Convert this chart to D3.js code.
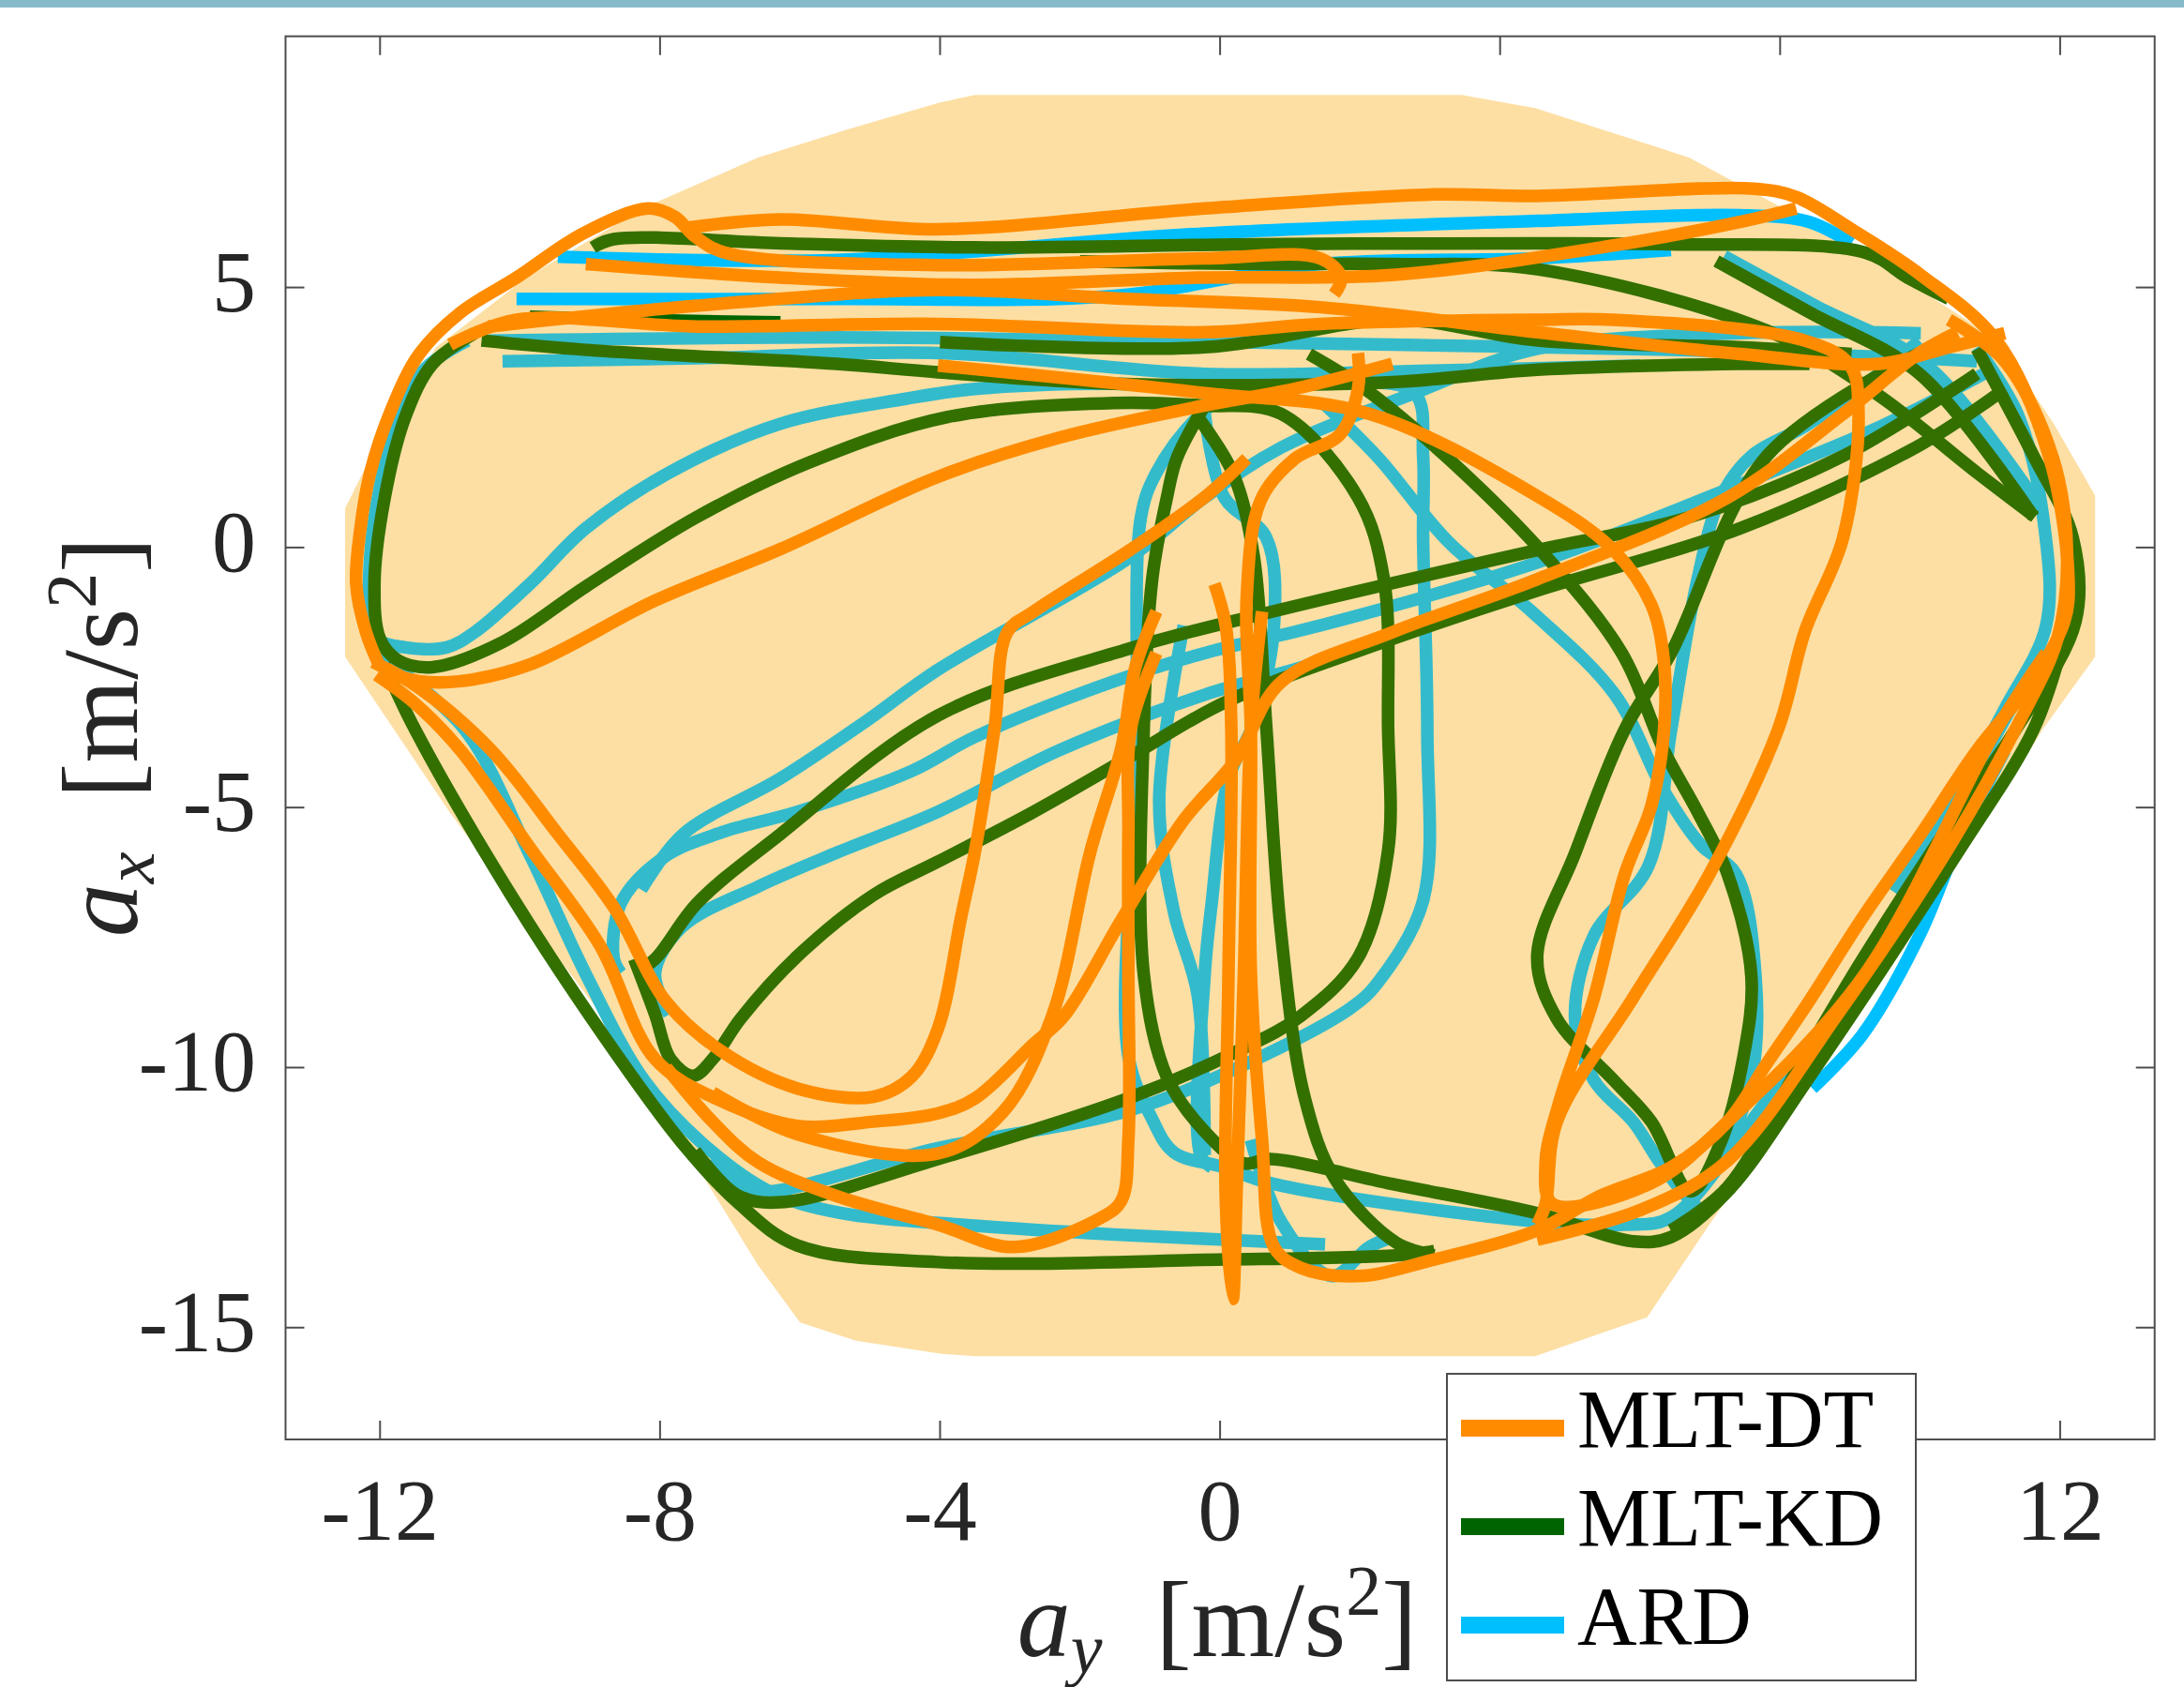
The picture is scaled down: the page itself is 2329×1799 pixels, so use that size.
<!DOCTYPE html>
<html>
<head>
<meta charset="utf-8">
<script src="https://cdn.jsdelivr.net/npm/d3@7"></script>
<style>
  body { margin: 0; background: #fff; }
  text { font-family: "Liberation Serif", "DejaVu Serif", serif; }
</style>
</head>
<body>
<div id="chart"></div>
<script>
const width = 2329;
const height = 1799;
const plot = { left: 304.5, right: 2297.7, top: 38.7, bottom: 1535 };

const xTicks = [-12, -8, -4, 0, 4, 8, 12];
const yTicks = [5, 0, -5, -10, -15];
const seriesNames = ["MLT-DT", "MLT-KD", "ARD"];

// friction envelope, [a_y, a_x]
const envelope = [[-3.5,8.7],[-4.0,8.56],[-5.3,8.05],[-6.6,7.5],[-8.2,6.55],[-9.9,5.2],[-11.2,3.85],[-12.0,2.1],[-12.5,0.75],[-12.5,-2.1],[-11.8,-3.5],[-11.0,-5.1],[-9.9,-7.1],[-8.8,-9.05],[-7.7,-11.4],[-6.6,-13.8],[-6.0,-14.9],[-5.2,-15.25],[-4.0,-15.5],[-3.5,-15.55],[4.5,-15.55],[5.25,-15.2],[6.1,-14.8],[7.0,-13.0],[8.35,-10.4],[10.0,-7.1],[11.1,-4.9],[11.75,-3.5],[12.5,-2.1],[12.5,1.0],[11.9,2.4],[11.1,4.0],[10.0,4.95],[8.35,6.3],[6.7,7.5],[4.5,8.45],[3.45,8.7]];

// MLT-DT trajectory pieces, [a_y, a_x]
const dtLaps = [
  [[-12.0,-2.3],[-12.2,-1.63],[-12.34,-0.7],[-12.28,0.37],[-12.14,1.44],[-11.84,2.65],[-11.44,3.72],[-10.85,4.52],[-10.05,5.19],[-9.1,6.04],[-8.17,6.52],[-7.79,6.36],[-7.51,5.99],[-7.07,5.67],[-4.03,5.43],[-0.22,5.56],[1.43,5.56],[1.73,5.19],[1.63,4.87]],
  [[-7.6,6.15],[-6.28,6.31],[-4.03,6.12],[-0.22,6.52],[3.06,6.79],[4.53,6.76],[7.63,6.9],[8.23,6.74],[9.02,6.12],[10.01,5.24],[11.09,3.98],[11.84,1.76],[12.12,-0.61],[12.06,-1.42],[11.6,-2.57],[10.81,-3.9],[10.01,-5.51],[9.18,-7.11],[8.42,-8.71],[7.81,-9.92],[7.25,-11.04],[6.44,-11.92],[5.44,-12.46],[4.53,-13.13],[3.06,-13.69],[1.97,-14.01],[1.15,-13.85],[0.77,-13.45],[0.6,-11.39],[0.44,-8.18],[0.44,-3.53],[0.38,-0.96],[0.58,0.91],[1.07,1.71],[1.71,2.17],[1.97,3.05],[1.97,3.74]],
  [[-12.0,-2.35],[-11.44,-2.57],[-10.85,-2.57],[-9.86,-2.25],[-8.07,-1.02],[-6.28,-0.03],[-4.03,1.36],[-2.3,2.11],[-0.22,2.73],[1.07,3.05],[2.46,3.53]],
  [[-12.1,-2.2],[-11.44,-2.7],[-10.41,-3.9],[-9.46,-5.51],[-8.66,-6.92],[-7.91,-8.74],[-7.13,-9.68],[-6.04,-10.4],[-4.95,-10.56],[-4.41,-10.18],[-4.03,-9.25],[-3.7,-7.11],[-3.5,-5.83],[-3.22,-3.45],[-3.04,-1.63],[-2.66,-1.23],[-1.29,-0.05],[-0.2,0.99],[0.38,1.71]],
  [[-12.05,-2.45],[-11.5,-3.0],[-10.85,-3.9],[-9.86,-5.77],[-8.86,-7.65],[-8.07,-9.84],[-7.13,-10.64],[-6.04,-11.12],[-4.95,-11.04],[-4.03,-10.88],[-3.5,-10.59],[-2.66,-9.54],[-2.23,-9.01],[-1.41,-7.16],[-0.52,-5.24],[0.22,-4.09],[0.87,-2.59],[2.46,-1.63],[4.53,-0.61],[7.25,0.96],[8.9,2.57],[9.99,3.74],[10.53,4.14]],
  [[-7.25,-10.48],[-6.04,-11.28],[-4.03,-11.65],[-3.1,-10.85],[-2.4,-9.01],[-1.85,-5.83],[-1.41,-3.85],[-1.21,-2.3],[-0.91,-1.23]],
  [[-7.91,-10.0],[-7.25,-11.04],[-6.6,-11.82],[-5.5,-12.46],[-4.03,-13.02],[-2.94,-13.45],[-1.69,-12.88],[-1.41,-12.56],[-1.31,-11.39],[-1.31,-8.18],[-1.31,-5.51],[-1.27,-3.45],[-0.91,-2.03]],
  [[0.6,-1.23],[0.44,-3.45],[0.34,-8.18],[0.24,-12.19],[0.18,-14.45],[0.08,-12.46],[0.12,-8.18],[0.16,-3.45],[0.08,-1.5],[-0.08,-0.7]],
  [[-4.03,3.5],[-0.22,2.97],[2.13,2.57],[4.53,0.99],[5.62,-0.05],[6.16,-1.1],[6.34,-2.19],[6.34,-3.53],[6.16,-4.97],[5.78,-6.28],[5.34,-8.66],[4.85,-10.64],[4.65,-11.82],[4.75,-12.62],[6.16,-12.22],[7.25,-11.04],[9.18,-8.26],[11.09,-3.5],[11.8,-2.03]],
  [[4.53,-13.02],[4.65,-12.62],[4.81,-11.04],[5.9,-8.66],[6.99,-6.28],[7.97,-3.5],[8.35,-1.63],[8.9,0.19],[9.12,2.57],[9.0,3.5],[8.35,3.98],[5.62,4.38],[4.53,4.38],[1.43,4.3],[-0.22,4.14],[-4.03,4.3],[-7.47,4.25],[-10.05,4.38],[-11.0,3.9]],
  [[-10.45,4.25],[-7.47,4.65],[-4.03,4.95],[-1.31,4.78],[1.43,4.62],[4.53,4.14],[7.43,3.72],[9.42,3.53],[10.41,3.85],[11.21,4.12]],
  [[-9.06,5.45],[-6.28,5.19],[-3.5,5.05],[-0.32,5.19],[2.46,5.24],[5.44,5.77],[7.43,6.26],[8.23,6.52]],
  [[4.53,-13.31],[6.04,-12.72],[7.25,-11.79],[8.82,-8.98],[10.41,-5.77],[11.41,-3.37],[11.96,-1.76],[12.1,-0.16],[11.9,1.71],[11.21,3.58],[10.41,4.38]]
];

// MLT-KD trajectory pieces
const kdLaps = [
  [[-8.96,5.77],[-8.66,5.93],[-6.28,5.85],[-3.5,5.77],[0.48,5.83],[4.53,5.85],[6.44,5.83],[9.22,5.67],[9.82,5.19],[10.41,4.78]],
  [[-10.65,4.12],[-11.25,3.53],[-11.64,2.51],[-11.94,0.91],[-12.08,-0.7],[-12.0,-1.76],[-11.74,-2.17],[-11.25,-2.3],[-10.25,-1.82],[-9.06,-0.75],[-7.47,0.59],[-5.88,1.63],[-3.89,2.51],[-1.51,2.78],[-0.22,2.73],[0.87,2.57],[1.97,0.96],[2.34,-0.61],[2.4,-3.45],[2.4,-5.83],[1.97,-7.89],[1.15,-9.01],[0.22,-9.7],[-1.31,-10.59],[-4.03,-11.76],[-6.28,-12.59],[-6.9,-12.45],[-7.5,-11.6]],
  [[-10.55,3.98],[-9.06,3.8],[-5.48,3.53],[-4.03,3.37],[-1.51,3.15],[2.46,3.18],[4.53,3.42],[7.43,3.53],[8.42,3.53]],
  [[-11.94,-2.25],[-11.5,-3.5],[-10.13,-6.68],[-8.78,-9.44],[-7.69,-11.44],[-6.87,-12.62],[-6.04,-13.42],[-4.03,-13.74],[0.06,-13.69],[2.52,-13.61],[3.06,-13.53]],
  [[-0.32,2.51],[0.18,1.44],[0.48,-0.16],[0.66,-3.45],[0.87,-7.4],[1.21,-10.59],[1.65,-12.16],[2.52,-13.37],[3.06,-13.61]],
  [[-0.22,2.73],[-0.62,1.71],[-0.76,0.96],[-0.97,-0.61],[-1.09,-3.45],[-1.09,-8.21],[-0.76,-10.18],[-0.22,-11.23],[0.34,-11.84],[0.72,-11.76],[2.46,-12.24],[4.53,-12.8],[5.9,-13.34],[6.44,-13.26],[7.25,-12.38],[8.42,-10.18],[10.53,-5.88],[11.62,-3.5],[12.0,-2.03]],
  [[10.81,3.34],[8.9,1.76],[6.72,0.59],[4.53,-0.05],[0.66,-1.26],[-1.31,-1.95],[-4.03,-3.23],[-6.28,-5.51],[-7.47,-6.84],[-8.07,-7.91],[-8.37,-8.18]],
  [[-8.37,-7.91],[-8.07,-8.98],[-7.85,-9.84],[-7.53,-10.16],[-7.25,-9.84],[-6.85,-9.06],[-6.04,-7.86],[-4.95,-6.68],[-4.03,-6.04],[-2.7,-5.11],[-1.31,-4.04],[0.08,-2.97],[2.46,-1.76],[4.53,-0.83],[7.43,0.37],[10.01,1.98],[11.21,3.05]],
  [[9.99,3.74],[7.81,1.76],[6.44,-2.03],[5.78,-3.5],[5.07,-5.88],[4.53,-7.86],[4.81,-9.06],[5.62,-10.24],[6.16,-11.04],[6.72,-12.38],[7.15,-11.44],[7.47,-9.84],[7.59,-8.26],[7.25,-6.28],[6.82,-5.08],[6.34,-3.9],[5.74,-2.03],[4.65,-0.16],[3.26,1.71],[2.07,3.05],[1.27,3.72]],
  [[10.81,3.82],[11.62,1.76],[12.18,0.19],[12.22,-1.42],[11.35,-3.53],[10.53,-5.11],[9.18,-7.91],[8.35,-9.78],[7.25,-12.3],[6.44,-13.13]],
  [[-2.0,5.5],[0.5,5.45],[2.46,5.45],[4.53,5.35],[7.81,4.17],[9.36,2.97],[10.81,1.44],[11.64,0.59]],
  [[-4.0,3.95],[-0.22,3.85],[2.52,4.38],[4.53,3.98],[7.43,3.85],[9.02,3.72]],
  [[7.09,5.51],[8.42,4.52],[9.99,3.34],[11.62,0.59]]
];
const kdDarkLaps = [
  [[-9.86,4.44],[-8.46,4.38],[-6.28,4.33]]
];

// ARD trajectory pieces
const ardLaps = [
  [[-10.75,3.98],[-11.35,3.45],[-11.74,2.51],[-12.0,1.18],[-12.14,-0.16],[-12.14,-1.23],[-12.04,-1.76],[-11.64,-1.92],[-11.05,-1.92],[-10.65,-1.63],[-9.86,-0.7],[-9.06,0.37],[-7.87,1.44],[-6.28,2.38],[-4.49,2.86],[-3.5,3.05],[-1.51,3.15],[0.08,3.05],[1.67,3.18],[2.78,2.97],[2.9,1.76],[2.9,0.19],[2.96,-3.53],[2.9,-6.79],[2.25,-8.37],[1.87,-8.85],[0.22,-10.02],[-1.31,-10.83],[-4.03,-11.55],[-6.44,-12.38],[-6.87,-12.3],[-7.3,-11.8]],
  [[-12.04,-2.03],[-10.79,-3.5],[-9.87,-5.88],[-9.04,-8.26],[-8.23,-10.24],[-7.41,-11.44],[-6.44,-12.38],[-5.48,-12.78],[-3.5,-13.04],[-1.51,-13.21],[0.06,-13.31],[1.5,-13.4]],
  [[10.91,3.34],[9.44,2.33],[7.25,1.12],[4.53,-0.29],[1.43,-1.5],[-0.22,-2.03],[-1.51,-2.57],[-3.5,-3.64],[-4.41,-4.3],[-6.04,-5.08],[-7.13,-5.48],[-7.95,-5.96],[-8.56,-6.84],[-8.66,-7.91],[-8.56,-8.18]],
  [[4.53,-0.61],[1.43,-2.19],[-0.22,-2.83],[-2.3,-3.9],[-4.03,-5.08],[-5.5,-5.88],[-6.6,-6.52],[-7.69,-7.3],[-8.07,-8.18],[-7.87,-8.98]],
  [[-8.27,-6.58],[-7.67,-5.51],[-6.28,-4.44],[-5.09,-3.37],[-4.03,-2.35],[-1.31,-0.21],[-0.22,0.96],[0.87,1.92],[2.78,2.97],[4.53,3.82],[7.43,4.12],[10.01,4.12]],
  [[0.48,3.31],[-0.32,2.51],[-0.91,1.44],[-1.13,0.59],[-1.19,-3.53],[-1.25,-5.51],[-1.31,-9.78],[-0.97,-10.99],[-0.66,-11.63],[0.06,-11.92],[0.77,-12.24],[4.53,-12.96],[5.78,-13.02],[6.44,-12.88],[7.81,-10.64],[9.99,-6.68],[10.81,-4.3],[11.41,-2.83]],
  [[-0.52,-1.5],[-0.87,-4.87],[-0.66,-7.0],[-0.32,-8.61],[-0.22,-11.68]],
  [[-0.22,2.57],[0.06,0.96],[0.66,0.19],[0.77,-1.5],[0.48,-3.37],[0.12,-4.44],[-0.12,-6.84],[-0.22,-8.21],[-0.28,-11.68],[-0.12,-11.92]],
  [[0.44,-11.39],[0.87,-12.96],[1.59,-14.01],[2.13,-13.45],[2.46,-13.26]],
  [[9.99,3.98],[9.18,3.1],[8.35,2.33],[7.59,1.76],[7.15,0.96],[6.82,-0.61],[6.44,-3.53],[6.12,-6.12],[5.34,-7.46],[5.07,-9.06],[5.34,-10.24],[5.9,-11.04],[6.28,-11.82],[6.6,-12.38],[6.84,-12.72]],
  [[7.15,-11.82],[7.59,-10.24],[7.65,-8.26],[7.37,-6.28],[6.87,-5.72],[6.34,-4.68],[5.64,-2.83],[4.45,-1.23],[3.26,0.11],[2.27,1.71],[1.47,2.78]],
  [[10.81,3.85],[11.41,2.51],[11.78,0.35],[11.8,-1.5],[11.21,-3.1],[10.5,-4.8],[9.6,-6.6]],
  [[-10.25,3.58],[-7.47,3.64],[-4.03,3.74],[-0.22,3.34],[3.0,3.4],[6.0,3.5]],
  [[-10.45,3.98],[-5.48,4.04],[-1.51,3.98],[2.46,3.9],[6.44,3.8],[10.01,3.64],[10.81,3.58]],
  [[7.2,5.6],[8.5,4.65],[10.1,3.5],[11.7,0.8]]
];
const ardBrightLaps = [
  [[8.46,-10.4],[9.18,-9.36],[9.99,-7.46],[10.53,-5.72],[11.21,-3.9]],
  [[-9.46,5.59],[-5.48,5.53],[-0.22,6.04],[4.53,6.28],[7.43,6.39],[8.42,6.26],[9.02,5.85]],
  [[-10.05,4.78],[-5.48,4.78],[-1.51,4.84],[1.43,5.45],[4.53,5.56],[6.44,5.72]]
];

const svg = d3.select("#chart").append("svg")
  .attr("width", width).attr("height", height)
  .style("display", "block");

svg.append("rect").attr("width", width).attr("height", height).attr("fill", "#fff");
svg.append("rect").attr("width", width).attr("height", 8).attr("fill", "#86b9ca");

const x = d3.scaleLinear().domain([-13.35, 13.35]).range([plot.left, plot.right]);
const y = d3.scaleLinear().domain([-17.15, 9.83]).range([plot.bottom, plot.top]);

svg.append("clipPath").attr("id", "clip").append("rect")
  .attr("x", plot.left).attr("y", plot.top)
  .attr("width", plot.right - plot.left).attr("height", plot.bottom - plot.top);

const g = svg.append("g").attr("clip-path", "url(#clip)");

g.append("path")
  .datum(envelope)
  .attr("d", d3.line().x(d => x(d[0])).y(d => y(d[1])).curve(d3.curveLinearClosed))
  .attr("fill", "#fddfa4");

const line = d3.line()
  .x(d => x(d[0])).y(d => y(d[1]))
  .curve(d3.curveCatmullRom.alpha(0.5));

function drawLaps(laps, color) {
  g.append("g").selectAll("path")
    .data(laps)
    .join("path")
    .attr("d", line)
    .attr("fill", "none")
    .attr("stroke", color)
    .attr("stroke-width", 13.5)
    .attr("stroke-linejoin", "round");
}

drawLaps(ardLaps, "#33bbcc");
drawLaps(ardBrightLaps, "#00bfff");
drawLaps(kdLaps, "#347000");
drawLaps(kdDarkLaps, "#006400");
drawLaps(dtLaps, "#ff8c00");

// axes box with inward ticks on all sides
const axisColor = "#4d4d4d";
const tickLen = 20;
svg.append("rect")
  .attr("x", plot.left).attr("y", plot.top)
  .attr("width", plot.right - plot.left).attr("height", plot.bottom - plot.top)
  .attr("fill", "none").attr("stroke", axisColor).attr("stroke-width", 2);

const ticks = svg.append("g").attr("stroke", axisColor).attr("stroke-width", 2);
xTicks.forEach(t => {
  ticks.append("line").attr("x1", x(t)).attr("x2", x(t)).attr("y1", plot.bottom).attr("y2", plot.bottom - tickLen);
  ticks.append("line").attr("x1", x(t)).attr("x2", x(t)).attr("y1", plot.top).attr("y2", plot.top + tickLen);
});
yTicks.forEach(t => {
  ticks.append("line").attr("y1", y(t)).attr("y2", y(t)).attr("x1", plot.left).attr("x2", plot.left + tickLen);
  ticks.append("line").attr("y1", y(t)).attr("y2", y(t)).attr("x1", plot.right).attr("x2", plot.right - tickLen);
});

// legend box
const legendBox = { x: 1543, y: 1465, w: 500, h: 327 };

// x labels that the legend box would cover are not drawn
svg.append("g").selectAll("text")
  .data(xTicks.filter(t => x(t) < legendBox.x - 20 || x(t) > legendBox.x + legendBox.w + 20))
  .join("text")
  .attr("x", d => x(d)).attr("y", 1642)
  .attr("text-anchor", "middle")
  .attr("font-size", 94).attr("fill", "#262626")
  .text(d => d);

svg.append("g").selectAll("text")
  .data(yTicks).join("text")
  .attr("x", 273).attr("y", d => y(d) + 25)
  .attr("text-anchor", "end")
  .attr("font-size", 94).attr("fill", "#262626")
  .text(d => d);

// axis labels
function axisLabel(sel, sub) {
  sel.append("tspan").attr("font-style", "italic").text("a");
  sel.append("tspan").attr("font-style", "italic").attr("font-size", 76).attr("dy", 18).text(sub);
  sel.append("tspan").attr("dy", -18).text("\u2002[m/s");
  sel.append("tspan").attr("font-size", 76).attr("dy", -44).text("2");
  sel.append("tspan").attr("dy", 44).text("]");
}
const xl = svg.append("text")
  .attr("x", 1298).attr("y", 1766)
  .attr("text-anchor", "middle")
  .attr("font-size", 114).attr("fill", "#262626");
axisLabel(xl, "y");

const yl = svg.append("text")
  .attr("transform", "translate(146,786) rotate(-90)")
  .attr("text-anchor", "middle")
  .attr("font-size", 114).attr("fill", "#262626");
axisLabel(yl, "x");

// legend
const legend = svg.append("g");
legend.append("rect")
  .attr("x", legendBox.x).attr("y", legendBox.y).attr("width", legendBox.w).attr("height", legendBox.h)
  .attr("fill", "#fff").attr("stroke", axisColor).attr("stroke-width", 2);
const legendColors = ["#ff8c00", "#006400", "#00bfff"];
seriesNames.forEach((name, i) => {
  const ly = 1523 + i * 105;
  legend.append("line")
    .attr("x1", 1558).attr("x2", 1668).attr("y1", ly).attr("y2", ly)
    .attr("stroke", legendColors[i]).attr("stroke-width", 18);
  legend.append("text")
    .attr("x", 1682).attr("y", ly + 20)
    .attr("font-size", 88).attr("fill", "#000")
    .text(name);
});
</script>
</body>
</html>
